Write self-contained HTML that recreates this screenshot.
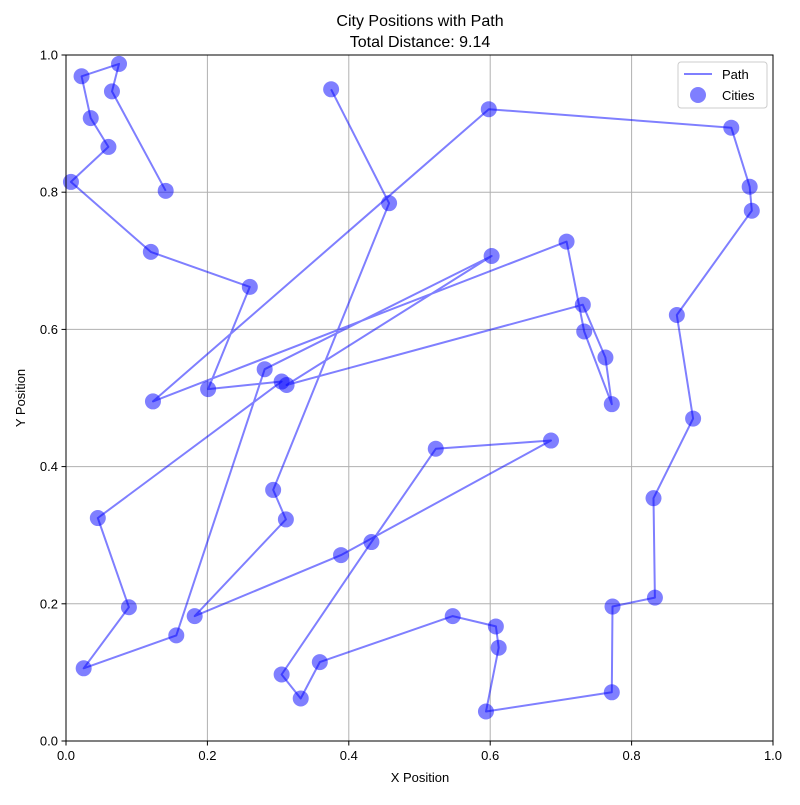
<!DOCTYPE html>
<html><head><meta charset="utf-8"><style>
body{margin:0;background:#fff}
svg text{font-family:"Liberation Sans","DejaVu Sans",sans-serif;fill:#000}
</style></head><body>
<svg id="chart" width="800" height="800" viewBox="0 0 800 800" xmlns="http://www.w3.org/2000/svg">
<rect width="800" height="800" fill="#fff"/>
<text x="420" y="26" font-size="16" text-anchor="middle">City Positions with Path</text>
<text x="420" y="47" font-size="16" text-anchor="middle">Total Distance: 9.14</text>
<g id="grid"></g>
<g id="series"></g>
<rect x="66" y="55" width="707" height="686" fill="none" stroke="#000" stroke-width="1"/>
<g id="axes"></g>
<text x="420" y="782" font-size="13" text-anchor="middle">X Position</text>
<text x="25" y="398" font-size="13" text-anchor="middle" transform="rotate(-90 25 398)">Y Position</text>
<g>
<rect x="678" y="62" width="89" height="46" rx="3" fill="#fff" stroke="#ccc"/>
<line x1="684" y1="74" x2="712" y2="74" stroke="rgba(0,0,255,0.5)" stroke-width="2"/>
<text x="722" y="79" font-size="13">Path</text>
<circle cx="698" cy="95" r="8" fill="rgba(0,0,255,0.5)"/>
<text x="722" y="100" font-size="13">Cities</text>
</g>
</svg>
<script>
const pathX=[0.141,0.065,0.075,0.022,0.035,0.060,0.007,0.120,0.260,0.201,0.305,0.045,0.089,0.025,0.156,0.281,0.602,0.312,0.731,0.763,0.772,0.733,0.708,0.123,0.598,0.941,0.967,0.970,0.864,0.887,0.831,0.833,0.773,0.772,0.594,0.612,0.608,0.547,0.359,0.332,0.305,0.432,0.523,0.686,0.389,0.182,0.311,0.293,0.457,0.375];
const pathY=[0.802,0.947,0.987,0.969,0.908,0.866,0.815,0.713,0.662,0.513,0.524,0.325,0.195,0.106,0.154,0.542,0.707,0.519,0.636,0.559,0.491,0.597,0.728,0.495,0.921,0.894,0.808,0.773,0.621,0.470,0.354,0.209,0.196,0.071,0.043,0.136,0.167,0.182,0.115,0.062,0.097,0.290,0.426,0.438,0.271,0.182,0.323,0.366,0.784,0.950];
const xTicks=[0,0.2,0.4,0.6,0.8,1.0];
const yTicks=[0,0.2,0.4,0.6,0.8,1.0];
const xTickLabels=["0.0","0.2","0.4","0.6","0.8","1.0"];
const yTickLabels=["0.0","0.2","0.4","0.6","0.8","1.0"];
const NS="http://www.w3.org/2000/svg";
function sx(v){return 66+v*707;}
function sy(v){return 741-v*686;}
function mk(t,a,p){const e=document.createElementNS(NS,t);for(const k in a)e.setAttribute(k,a[k]);p.appendChild(e);return e;}
const grid=document.getElementById('grid'),axes=document.getElementById('axes'),series=document.getElementById('series');
xTicks.forEach((t,i)=>{
 const g=mk('line',{x1:sx(t),x2:sx(t),y1:55,y2:741,stroke:'#b0b0b0','stroke-width':1},grid);
 
 
 const tk=mk('line',{x1:sx(t),x2:sx(t),y1:741,y2:745.5,stroke:'#000'},axes);
 
 
 const tx=mk('text',{x:sx(t),y:760,'font-size':13,'text-anchor':'middle'},axes);
 tx.textContent=xTickLabels[i];
 
 
});
yTicks.forEach((t,i)=>{
 const g=mk('line',{x1:66,x2:773,y1:sy(t),y2:sy(t),stroke:'#b0b0b0','stroke-width':1},grid);
 
 
 const tk=mk('line',{x1:61.5,x2:66,y1:sy(t),y2:sy(t),stroke:'#000'},axes);
 
 
 const tx=mk('text',{x:58,y:sy(t)+4.5,'font-size':13,'text-anchor':'end'},axes);
 tx.textContent=yTickLabels[i];
 
 
});
const pts=pathX.map((x,i)=>sx(x).toFixed(1)+','+sy(pathY[i]).toFixed(1)).join(' ');
const pl=mk('polyline',{points:pts,fill:'none',stroke:'rgba(0,0,255,0.5)','stroke-width':2,'stroke-linejoin':'round'},series);


pathX.forEach((x,i)=>{
 const c=mk('circle',{cx:sx(x),cy:sy(pathY[i]),r:8,fill:'rgba(0,0,255,0.5)'},series);
 
 
});
</script>
</body></html>
